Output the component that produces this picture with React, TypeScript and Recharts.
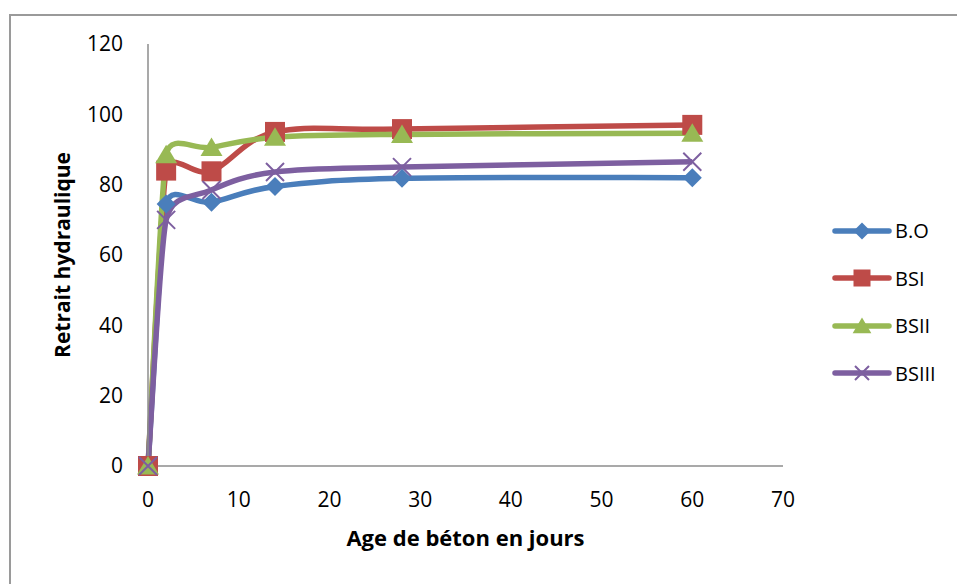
import React from 'react';
import { LineChart, Line, XAxis, YAxis, Legend } from 'recharts';

const days = [0, 2, 7, 14, 28, 60];
const seriesNames = ['B.O', 'BSI', 'BSII', 'BSIII'];
const bo = [0, 74.5, 75, 79.5, 81.8, 82];
const bsi = [0, 84, 83.8, 95, 95.8, 97];
const bsii = [0, 88.5, 90.6, 93.5, 94.3, 94.6];
const bsiii = [0, 70, 78.5, 83.6, 85, 86.5];
const xTicks = [0, 10, 20, 30, 40, 50, 60, 70];
const yTicks = [0, 20, 40, 60, 80, 100, 120];

const colors = ['#4A7EBB', '#BE4B48', '#98B954', '#7D5FA0'];
const FONT = '"Open Sans", Lato, sans-serif';

const data = days.map((d, i) => ({ day: d, bo: bo[i], bsi: bsi[i], bsii: bsii[i], bsiii: bsiii[i] }));

const dist = (a: number[], b: number[]) => Math.hypot(a[0] - b[0], a[1] - b[1]);

// Excel-like smoothed curve: Catmull-Rom tangents with Excel's length limiting
const excelCurve: any = (context: any) => {
  let pts: number[][] = [];
  return {
    areaStart() {},
    areaEnd() {},
    lineStart() { pts = []; },
    point(x: number, y: number) { pts.push([+x, +y]); },
    lineEnd() {
      const n = pts.length;
      if (!n) return;
      context.moveTo(pts[0][0], pts[0][1]);
      if (n === 1) return;
      const tan: number[][] = pts.map((p, i) => {
        const a = pts[i - 1] || p;
        const b = pts[i + 1] || p;
        const d02 = dist(a, b);
        if (d02 === 0) return [0, 0];
        const d01 = dist(a, p);
        const d12 = dist(p, b);
        let f = 1 / 6;
        if (i > 0 && i < n - 1) {
          if (d01 / 6 >= d12 / 2 || d12 / 6 >= d01 / 2) {
            f = Math.min(d01, d12) / (2 * d02);
          }
        }
        return [(b[0] - a[0]) * f, (b[1] - a[1]) * f];
      });
      for (let i = 0; i < n - 1; i++) {
        const p1 = pts[i];
        const p2 = pts[i + 1];
        context.bezierCurveTo(
          p1[0] + tan[i][0], p1[1] + tan[i][1],
          p2[0] - tan[i + 1][0], p2[1] - tan[i + 1][1],
          p2[0], p2[1]
        );
      }
    },
  };
};

const marker = (kind: number, cx: number, cy: number, color: string, s: number, key?: any) => {
  if (kind === 0) {
    return <path key={key} d={`M${cx},${cy - s}L${cx + s},${cy}L${cx},${cy + s}L${cx - s},${cy}Z`} fill={color} />;
  }
  if (kind === 1) {
    return <rect key={key} x={cx - s} y={cy - s} width={2 * s} height={2 * s} fill={color} />;
  }
  if (kind === 2) {
    return <path key={key} d={`M${cx},${cy - s}L${cx + s * 1.1},${cy + s * 0.85}L${cx - s * 1.1},${cy + s * 0.85}Z`} fill={color} />;
  }
  return (
    <path key={key} d={`M${cx - s},${cy - s}L${cx + s},${cy + s}M${cx + s},${cy - s}L${cx - s},${cy + s}`} stroke={color} strokeWidth={2} fill="none" />
  );
};

const dotFor = (kind: number) => (props: any) => {
  const { cx, cy, key, index } = props;
  const s = kind === 0 ? 9.5 : kind === 1 ? 10 : kind === 2 ? 10 : 9;
  return marker(kind, cx, cy, colors[kind], s, key ?? index);
};

const LegendContent = () => (
  <div style={{ fontFamily: FONT, fontSize: 20, color: '#000' }}>
    {seriesNames.map((n, i) => (
      <div key={n} style={{ display: 'flex', alignItems: 'center', height: 47.5 }}>
        <svg width={60} height={24} style={{ display: 'block' }}>
          <line x1={3} y1={12} x2={57} y2={12} stroke={colors[i]} strokeWidth={5.5} strokeLinecap="round" />
          {marker(i, 30, 12, colors[i], i === 3 ? 7 : 8.5)}
        </svg>
        <span style={{ marginLeft: 3 }}>{n}</span>
      </div>
    ))}
  </div>
);

export default function App() {
  const keys = ['bo', 'bsi', 'bsii', 'bsiii'];
  return (
    <div style={{ position: 'absolute', left: 0, top: 0, width: 957, height: 584, background: '#fff' }}>
      <div style={{ position: 'absolute', left: 9, top: 14, width: 960, height: 590, border: '2px solid #9a9a9a', boxSizing: 'border-box' }} />
      <div style={{ position: 'absolute', left: 0, top: 0 }}>
        <LineChart width={957} height={584} data={data} margin={{ top: 44, right: 49, bottom: 88, left: 88 }}>
          <XAxis
            dataKey="day"
            type="number"
            domain={[0, 70]}
            ticks={xTicks}
            tickLine={false}
            tickMargin={20}
            axisLine={{ stroke: '#8c8c8c', strokeWidth: 1.5 }}
            tick={{ fill: '#000', fontSize: 21, fontFamily: FONT }}
            height={30}
            label={{ value: 'Age de béton en jours', position: 'bottom', offset: 34, fill: '#000', fontSize: 22, fontWeight: 700, fontFamily: FONT }}
          />
          <YAxis
            type="number"
            domain={[0, 120]}
            ticks={yTicks}
            tickLine={false}
            tickMargin={19}
            width={60}
            axisLine={{ stroke: '#8c8c8c', strokeWidth: 1.5 }}
            tick={{ fill: '#000', fontSize: 21, fontFamily: FONT }}
            label={{
              content: (p: any) => {
                const vb = p.viewBox || {};
                const cy = (vb.y || 44) + (vb.height || 422) / 2;
                return (
                  <text x={62} y={cy} transform={`rotate(-90, 62, ${cy})`} textAnchor="middle" dominantBaseline="central" fontSize={21} fontWeight={700} fontFamily={FONT} fill="#000">
                    Retrait hydraulique
                  </text>
                );
              },
            }}
          />
          <Legend
            layout="vertical"
            align="right"
            verticalAlign="top"
            content={<LegendContent />}
            wrapperStyle={{ left: 832, top: 207, width: 125 }}
          />
          {keys.map((k, i) => (
            <Line
              key={k}
              dataKey={k}
              name={seriesNames[i]}
              type={excelCurve}
              stroke={colors[i]}
              strokeWidth={5.5}
              dot={dotFor(i)}
              activeDot={false}
              isAnimationActive={false}
            />
          ))}
        </LineChart>
      </div>
    </div>
  );
}
